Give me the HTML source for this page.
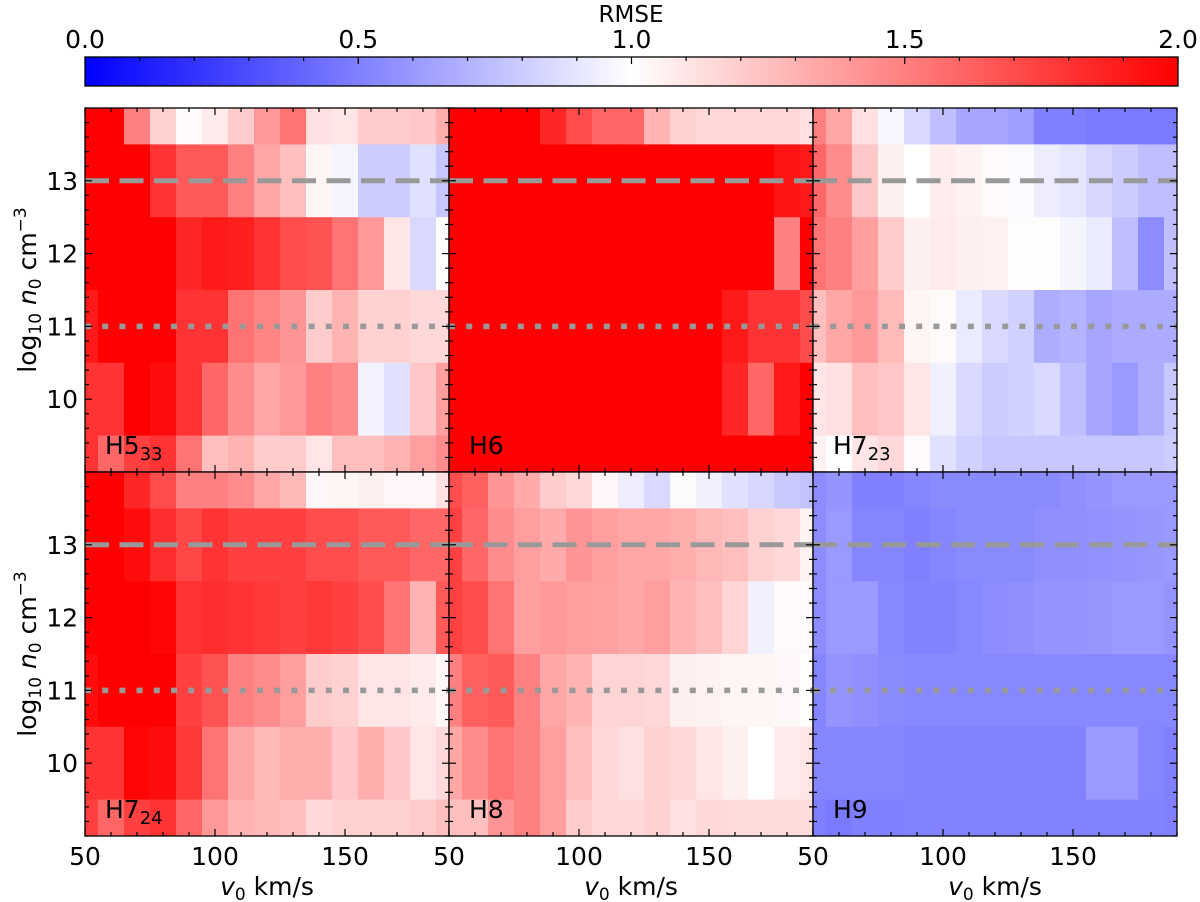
<!DOCTYPE html>
<html><head><meta charset="utf-8"><style>
body{margin:0;background:#fff;}
svg{display:block;font-family:"DejaVu Sans","Liberation Sans",sans-serif;}
</style></head><body>
<svg id="fig" width="1200" height="902" viewBox="0 0 1200 902" xmlns="http://www.w3.org/2000/svg">
<defs>
<linearGradient id="bwr" x1="0" x2="1" y1="0" y2="0">
<stop offset="0" stop-color="#0000ff"/><stop offset="0.5" stop-color="#ffffff"/><stop offset="1" stop-color="#ff0000"/>
</linearGradient>
</defs>
<text x="631" y="22" font-size="23" text-anchor="middle">RMSE</text>
<rect x="85" y="57" width="1093" height="29" fill="url(#bwr)" stroke="#000" stroke-width="1.3"/>
<g id="cbticks"></g>
<g id="panels"></g>
</svg>
<script>
const vValues=[50,60,70,80,90,100,110,120,130,140,150,160,170,180,190];
const nValues=[14,13,12,11,10,9];
const panelNames=["H5","H6","H7","H7","H8","H9"];
const panelSubs=["33","","23","24","",""];
const cbTickLabels=["0.0","0.5","1.0","1.5","2.0"];
const cbTickValues=[0,0.5,1,1.5,2];
const xTickValues=[50,100,150];
const yTickValues=[10,11,12,13];
const dashedLevel=13;
const dottedLevel=11;
const rmseH5=[
[2,2,1.5,1.18,1.02,1.08,1.2,1.4,1.55,1.12,1.1,1.2,1.2,1.22,1.32],
[2,2,2,1.8,1.65,1.65,1.5,1.35,1.25,1.04,0.96,0.8,0.8,0.88,0.78],
[2,2,2,2,1.85,1.9,1.88,1.8,1.7,1.68,1.55,1.4,1.1,0.85,1.0],
[1.9,2,2,2,1.8,1.8,1.55,1.48,1.42,1.2,1.3,1.18,1.18,1.15,1.15],
[1.8,1.8,2,1.95,1.8,1.6,1.45,1.35,1.4,1.5,1.45,0.95,0.88,1.22,1.38],
[1.8,1.6,1.75,1.8,1.55,1.25,1.3,1.2,1.2,1.1,1.25,1.25,1.3,1.38,1.45]];
const rmseH6=[
[2,2,2,2,1.85,1.7,1.6,1.6,1.3,1.18,1.15,1.15,1.15,1.15,1.12],
[2,2,2,2,2,2,2,2,2,2,2,2,2,1.92,1.9],
[2,2,2,2,2,2,2,2,2,2,2,2,2,1.5,2],
[2,2,2,2,2,2,2,2,2,2,2,1.9,1.8,1.8,1.7],
[2,2,2,2,2,2,2,2,2,2,2,1.85,1.6,1.9,2],
[2,2,2,2,2,2,2,2,2,2,2,2,2,2,2]];
const rmseH723=[
[1.5,1.35,1.12,0.97,0.85,0.75,0.65,0.65,0.62,0.5,0.5,0.48,0.48,0.48,0.48],
[1.6,1.45,1.22,1.06,1.0,1.07,1.05,1.02,0.98,0.93,0.9,0.84,0.8,0.75,0.75],
[1.55,1.5,1.38,1.2,1.06,1.08,1.06,1.05,1.01,1.01,0.96,0.92,0.75,0.55,0.75],
[1.25,1.35,1.4,1.27,1.04,1.02,0.92,0.85,0.82,0.68,0.7,0.65,0.67,0.67,0.67],
[1.1,1.12,1.25,1.22,1.1,0.94,0.85,0.8,0.82,0.85,0.75,0.65,0.6,0.68,0.78],
[1.05,1.0,1.1,1.15,1.02,0.88,0.82,0.78,0.78,0.78,0.78,0.78,0.78,0.78,0.8]];
const rmseH724=[
[2,2,1.85,1.7,1.5,1.5,1.45,1.35,1.28,1.03,1.04,1.06,1.03,1.03,1.12],
[2,2,1.95,1.82,1.72,1.8,1.75,1.75,1.75,1.7,1.7,1.65,1.65,1.6,1.6],
[2,2,2,1.98,1.8,1.82,1.8,1.78,1.75,1.78,1.75,1.7,1.55,1.3,1.65],
[1.95,2,2,2,1.75,1.68,1.5,1.45,1.38,1.2,1.18,1.1,1.1,1.08,1.03],
[1.8,1.8,1.98,1.95,1.78,1.55,1.35,1.28,1.32,1.32,1.22,1.32,1.22,1.1,1.15],
[1.75,1.6,1.75,1.8,1.6,1.4,1.3,1.28,1.25,1.15,1.18,1.18,1.18,1.2,1.25]];
const rmseH8=[
[1.7,1.62,1.42,1.33,1.2,1.15,1.03,0.93,0.85,0.99,0.94,0.88,0.84,0.79,0.76],
[1.75,1.6,1.45,1.38,1.33,1.42,1.38,1.35,1.35,1.32,1.28,1.25,1.18,1.15,1.05],
[1.75,1.7,1.55,1.38,1.4,1.38,1.37,1.35,1.38,1.3,1.25,1.17,0.94,1.02,1.02],
[1.5,1.62,1.65,1.5,1.35,1.3,1.17,1.17,1.15,1.06,1.05,1.04,1.04,1.03,1.0],
[1.35,1.45,1.55,1.5,1.38,1.25,1.15,1.12,1.18,1.15,1.1,1.06,1.0,1.08,1.1],
[1.25,1.25,1.42,1.5,1.38,1.2,1.15,1.15,1.18,1.12,1.15,1.14,1.14,1.14,1.14]];
const rmseH9=[
[0.55,0.58,0.5,0.5,0.52,0.54,0.54,0.54,0.54,0.54,0.56,0.58,0.6,0.6,0.6],
[0.55,0.6,0.52,0.52,0.5,0.52,0.54,0.54,0.54,0.56,0.56,0.57,0.58,0.59,0.6],
[0.55,0.6,0.6,0.53,0.51,0.51,0.53,0.55,0.56,0.58,0.58,0.59,0.6,0.6,0.58],
[0.52,0.58,0.56,0.54,0.53,0.53,0.53,0.53,0.53,0.53,0.53,0.53,0.53,0.53,0.53],
[0.52,0.52,0.52,0.52,0.51,0.51,0.51,0.51,0.51,0.51,0.51,0.6,0.6,0.52,0.5],
[0.5,0.48,0.5,0.5,0.51,0.51,0.51,0.51,0.51,0.51,0.51,0.51,0.51,0.51,0.5]];
const panelData=[rmseH5,rmseH6,rmseH723,rmseH724,rmseH8,rmseH9];

const NS="http://www.w3.org/2000/svg";
const VMIN=50,VMAX=190,NMIN=9,NMAX=14,PW=364,PH=364;
const colX=[85,449,813],rowY=[108,472];
function mk(tag,attrs,parent){const e=document.createElementNS(NS,tag);for(const k in attrs)e.setAttribute(k,attrs[k]);parent.appendChild(e);return e;}
function color(v){v=Math.max(0,Math.min(2,v));let r,g,b;if(v<1){r=g=Math.round(255*v);b=255;}else{r=255;g=b=Math.round(255*(2-v));}return `rgb(${r},${g},${b})`;}

const cb=document.getElementById('cbticks');
const cbx=v=>85+v/2*1093;
for(let i=0;i<=20;i++){const v=i*0.1;const major=(i%5===0);
 const t=mk('line',{x1:cbx(v),x2:cbx(v),y1:57,y2:57+(major?7:4),stroke:'#000','stroke-width':1.2},cb);
 
 }
cbTickValues.forEach((v,i)=>{const t=mk('text',{x:cbx(v),y:48,'font-size':25,'text-anchor':'middle'},cb);t.textContent=cbTickLabels[i];
 
 });

const root=document.getElementById('panels');
for(let p=0;p<6;p++){
 const px=colX[p%3],py=rowY[Math.floor(p/3)];
 const sx=v=>px+(v-VMIN)/(VMAX-VMIN)*PW;
 const sy=n=>py+(NMAX-n)/(NMAX-NMIN)*PH;
 const g=mk('g',{},root);
 
 
 const data=panelData[p];
 nValues.forEach((n,r)=>{vValues.forEach((v,c)=>{
  const x1=sx(Math.max(VMIN,v-5)),x2=sx(Math.min(VMAX,v+5));
  const y1=sy(Math.min(NMAX,n+0.5)),y2=sy(Math.max(NMIN,n-0.5));
  const cell=mk('rect',{x:x1,y:y1,width:x2-x1+0.4,height:y2-y1+0.4,fill:color(data[r][c])},g);
  
  
 });});
 const dl=mk('line',{x1:px,x2:px+PW,y1:sy(dashedLevel),y2:sy(dashedLevel),stroke:'#999','stroke-width':5,'stroke-dasharray':'24 10.5'},g);
 
 
 const ol=mk('line',{x1:px,x2:px+PW,y1:sy(dottedLevel),y2:sy(dottedLevel),stroke:'#999','stroke-width':5.5,'stroke-dasharray':'6 11.2'},g);
 
 
 for(let v=VMIN;v<=VMAX;v+=10){const major=(v%50===0);const L=major?7:4;
  mk('line',{x1:sx(v),x2:sx(v),y1:py+PH,y2:py+PH-L,stroke:'#000','stroke-width':1.2},g);
  mk('line',{x1:sx(v),x2:sx(v),y1:py,y2:py+L,stroke:'#000','stroke-width':1.2},g);}
 for(let k=0;k<=25;k++){const n=NMIN+k*0.2;const major=Math.abs(n-Math.round(n))<1e-6 && n>NMIN && n<NMAX;const L=major?7:4;
  mk('line',{x1:px,x2:px+L,y1:sy(n),y2:sy(n),stroke:'#000','stroke-width':1.2},g);
  mk('line',{x1:px+PW,x2:px+PW-L,y1:sy(n),y2:sy(n),stroke:'#000','stroke-width':1.2},g);}
 const fr=mk('rect',{x:px,y:py,width:PW,height:PH,fill:'none',stroke:'#000','stroke-width':1.3},g);
 
 
 const lb=mk('text',{x:px+20,y:py+PH-18,'font-size':25},g);
 
 
 lb.textContent=panelNames[p];
 if(panelSubs[p]){const ts=mk('tspan',{'font-size':18,dy:6},lb);ts.textContent=panelSubs[p];}
 if(p%3===0){
  yTickValues.forEach(n=>{const t=mk('text',{x:px-7,y:sy(n)+9,'font-size':25,'text-anchor':'end'},g);t.textContent=n;
   
   });
  const yl=mk('text',{x:0,y:0,'font-size':25,'text-anchor':'middle',transform:`translate(36,${py+PH/2}) rotate(-90)`},g);
  
  
  yl.innerHTML='log<tspan font-size="17" dy="5">10</tspan><tspan dy="-5"> </tspan><tspan font-style="italic">n</tspan><tspan font-size="17" dy="5">0</tspan><tspan dy="-5"> cm</tspan><tspan font-size="17" dy="-10">−3</tspan>';
 }
 if(p>=3){
  xTickValues.forEach(v=>{const t=mk('text',{x:sx(v),y:py+PH+29,'font-size':25,'text-anchor':'middle'},g);t.textContent=v;
   
   });
  const xl=mk('text',{x:px+PW/2,y:py+PH+59,'font-size':25,'text-anchor':'middle'},g);
  
  
  xl.innerHTML='<tspan font-style="italic">v</tspan><tspan font-size="17" dy="5">0</tspan><tspan dy="-5"> km/s</tspan>';
 }
}
</script>
</body></html>
